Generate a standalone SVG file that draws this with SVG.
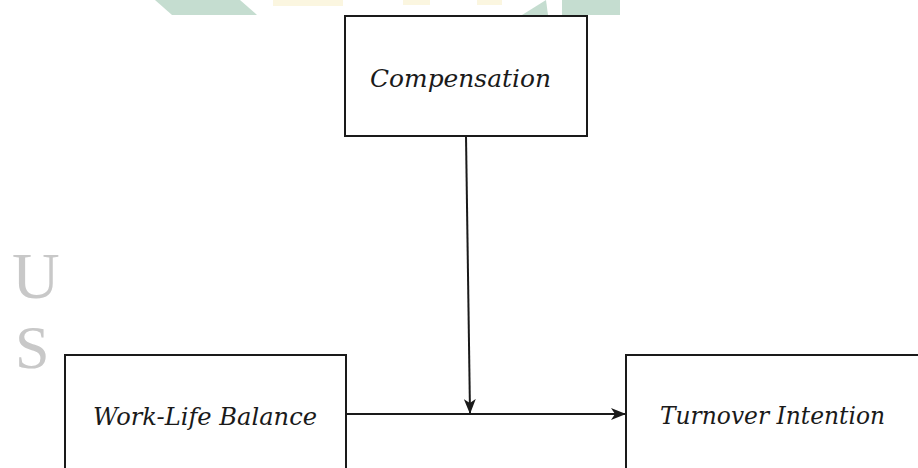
<svg xmlns="http://www.w3.org/2000/svg" width="918" height="468" viewBox="0 0 918 468">
  <style>
    .box { fill: #ffffff; stroke: #1a1a1a; stroke-width: 2; }
    .lbl { font-family: "DejaVu Serif", "Liberation Serif", serif; font-style: italic; font-size: 24px; fill: #1a1a1a; }
    .wm { font-family: "Liberation Serif", "DejaVu Serif", serif; fill: #c8c8c8; }
    .edge { stroke: #1a1a1a; stroke-width: 2; fill: none; }
  </style>
  <defs>
    <marker id="arrow" viewBox="0 0 15 12" refX="14" refY="6" markerWidth="15" markerHeight="12" markerUnits="userSpaceOnUse" orient="auto">
      <path d="M0,0 L15,6 L0,12 L4,6 z" fill="#1a1a1a"/>
    </marker>
  </defs>
  <g id="watermark">
    <polygon points="155,0 240,0 257,15 172,15" fill="#c5ddd0"/>
    <rect x="273" y="0" width="70" height="6" fill="#fbf6e0"/>
    <rect x="403" y="0" width="27" height="5" fill="#fbf6e0"/>
    <rect x="477" y="0" width="25" height="5" fill="#fbf6e0"/>
    <polygon points="522,15 546,0 548,15" fill="#c5ddd0"/>
    <rect x="562" y="0" width="58" height="15" fill="#c5ddd0"/>
    <text class="wm" x="12" y="298" font-size="66">U</text>
    <text class="wm" x="15" y="368" font-size="62">S</text>
  </g>
  <g id="connectors">
    <line class="edge" x1="466" y1="136" x2="470" y2="413" marker-end="url(#arrow)"/>
    <line class="edge" x1="346" y1="414" x2="625" y2="414" marker-end="url(#arrow)"/>
  </g>
  <g id="compensation">
    <rect class="box" x="345" y="16" width="242" height="120"/>
    <text class="lbl" x="370" y="87" textLength="181" lengthAdjust="spacingAndGlyphs">Compensation</text>
  </g>
  <g id="work-life-balance">
    <rect class="box" x="65" y="355" width="281" height="130"/>
    <text class="lbl" x="93" y="425" textLength="224" lengthAdjust="spacingAndGlyphs">Work-Life Balance</text>
  </g>
  <g id="turnover-intention">
    <rect class="box" x="626" y="355" width="300" height="130"/>
    <text class="lbl" x="660" y="424" textLength="225" lengthAdjust="spacingAndGlyphs">Turnover Intention</text>
  </g>
</svg>
